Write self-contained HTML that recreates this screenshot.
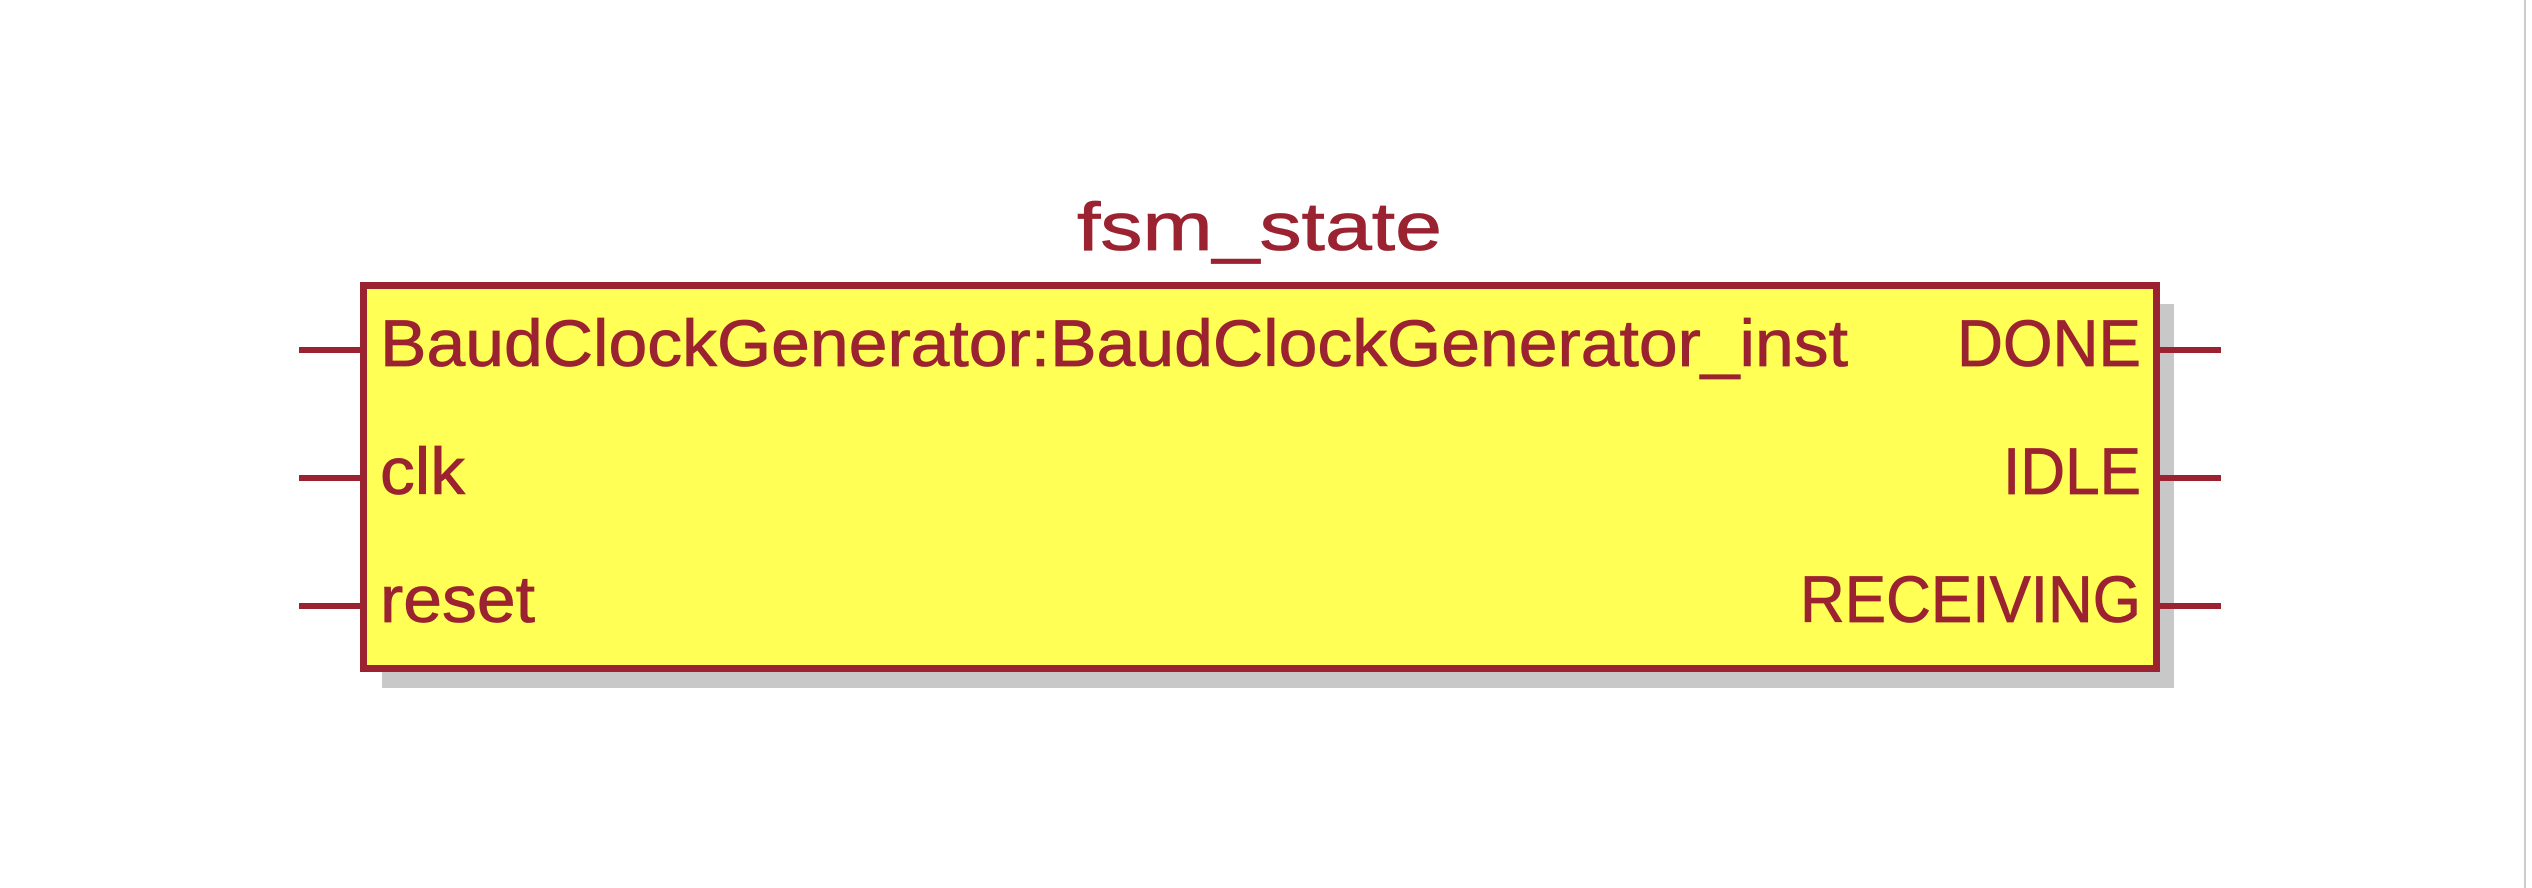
<!DOCTYPE html>
<html><head><meta charset="utf-8"><style>
html,body{margin:0;padding:0;background:#fff;width:2532px;height:888px;overflow:hidden}
svg{display:block}
text{font-family:"Liberation Sans","DejaVu Sans",sans-serif;fill:#9b2230;stroke:#9b2230;stroke-width:0.8;font-size:66px}
</style></head><body>
<svg width="2532" height="888" viewBox="0 0 2532 888" xmlns="http://www.w3.org/2000/svg">
<rect x="2524" y="0" width="2" height="888" fill="#cccccc"/>
<rect x="382" y="304" width="1792" height="384" fill="#c8c8c8"/>
<rect x="363.5" y="285.5" width="1793" height="383" fill="#ffff55" stroke="#9b2230" stroke-width="7"/>
<g stroke="#9b2230" stroke-width="6">
<line x1="299" y1="350" x2="362" y2="350"/>
<line x1="299" y1="478" x2="362" y2="478"/>
<line x1="299" y1="606" x2="362" y2="606"/>
<line x1="2158" y1="350" x2="2221" y2="350"/>
<line x1="2158" y1="478" x2="2221" y2="478"/>
<line x1="2158" y1="606" x2="2221" y2="606"/>
</g>
<text x="1077" y="250" textLength="365" lengthAdjust="spacingAndGlyphs" style="font-size:68px">fsm_state</text>
<text x="380" y="366" textLength="1468" lengthAdjust="spacingAndGlyphs">BaudClockGenerator:BaudClockGenerator_inst</text>
<text x="380" y="494" textLength="85" lengthAdjust="spacingAndGlyphs">clk</text>
<text x="380" y="622" textLength="155" lengthAdjust="spacingAndGlyphs">reset</text>
<text x="1957" y="366" textLength="184" lengthAdjust="spacingAndGlyphs">DONE</text>
<text x="2003" y="494" textLength="138" lengthAdjust="spacingAndGlyphs">IDLE</text>
<text x="1800" y="622" textLength="341" lengthAdjust="spacingAndGlyphs">RECEIVING</text>
</svg>
</body></html>
